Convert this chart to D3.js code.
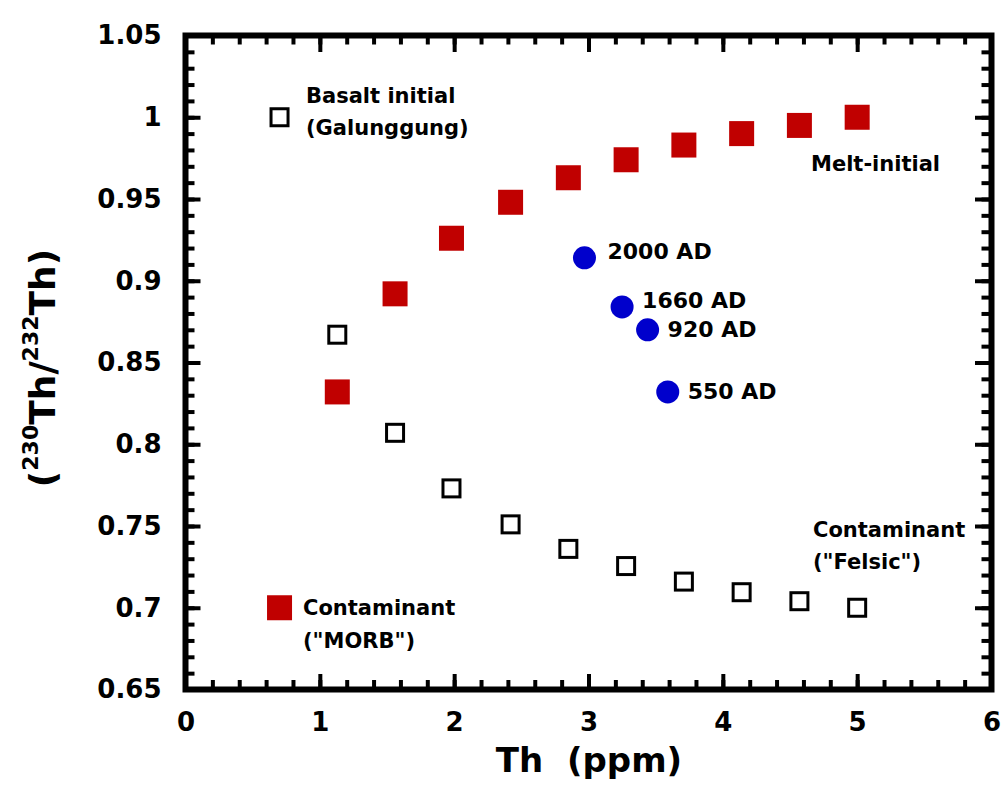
<!DOCTYPE html>
<html>
<head>
<meta charset="utf-8">
<script src="https://cdn.jsdelivr.net/npm/d3@7"></script>
<style>
  html, body { margin: 0; padding: 0; background: #fff; }
  svg text { font-family: "Comic Sans MS", "DejaVu Sans", sans-serif; font-weight: bold; fill: #000; }
</style>
</head>
<body>
<svg id="chart" width="1002" height="792"></svg>
<script>
// ---- data ----
const meltTh = [1.13, 1.56, 1.98, 2.42, 2.85, 3.28, 3.71, 4.14, 4.57, 5.0];
const meltRatio = [0.832, 0.892, 0.926, 0.948, 0.963, 0.974, 0.983, 0.990, 0.995, 1.000];

const felsicTh = [1.13, 1.56, 1.98, 2.42, 2.85, 3.28, 3.71, 4.14, 4.57, 5.0];
const felsicRatio = [0.867, 0.807, 0.773, 0.751, 0.736, 0.7255, 0.716, 0.7095, 0.704, 0.700];

const basaltKeyTh = [0.70];
const basaltKeyRatio = [1.000];
const morbKeyTh = [0.70];
const morbKeyRatio = [0.700];

const eruptTh = [2.97, 3.25, 3.44, 3.59];
const eruptRatio = [0.914, 0.884, 0.870, 0.832];
const eruptLabels = ["2000 AD", "1660 AD", "920 AD", "550 AD"];

const xTicks = [0, 1, 2, 3, 4, 5, 6];
const yTicks = [0.65, 0.7, 0.75, 0.8, 0.85, 0.9, 0.95, 1, 1.05];
const yTickLabels = ["0.65", "0.7", "0.75", "0.8", "0.85", "0.9", "0.95", "1", "1.05"];

// ---- layout ----
const L = 185.5, R = 991.5, T = 35.5, B = 689.5;
const svg = d3.select("#chart");
const x = d3.scaleLinear().domain([0, 6]).range([L, R]);
const y = d3.scaleLinear().domain([0.65, 1.05]).range([B, T]);

const xMinor = d3.range(0, 6.0001, 0.2).map(v => +v.toFixed(2));
const yMinor = d3.range(0.65, 1.05001, 0.01).map(v => +v.toFixed(3));

function styleAxis(g, fontSize) {
  g.select(".domain").remove();
  g.selectAll(".tick line").attr("stroke", "#000").attr("stroke-width", 4);
  g.selectAll("text").style("font-size", fontSize + "px").attr("fill", "#000");
}

// minor ticks
svg.append("g").attr("transform", `translate(0,${B})`)
  .call(d3.axisBottom(x).tickValues(xMinor).tickSize(-9.5).tickFormat(""))
  .call(g => styleAxis(g, 0));
svg.append("g").attr("transform", `translate(0,${T})`)
  .call(d3.axisTop(x).tickValues(xMinor).tickSize(-9).tickFormat(""))
  .call(g => styleAxis(g, 0));
svg.append("g").attr("transform", `translate(${L},0)`)
  .call(d3.axisLeft(y).tickValues(yMinor).tickSize(-9).tickFormat(""))
  .call(g => styleAxis(g, 0));
svg.append("g").attr("transform", `translate(${R},0)`)
  .call(d3.axisRight(y).tickValues(yMinor).tickSize(-10).tickFormat(""))
  .call(g => styleAxis(g, 0));

// major ticks
svg.append("g").attr("transform", `translate(0,${B})`)
  .call(d3.axisBottom(x).tickValues(xTicks).tickSize(-15.5).tickPadding(23).tickFormat(d3.format("d")))
  .call(g => styleAxis(g, 26));
svg.append("g").attr("transform", `translate(0,${T})`)
  .call(d3.axisTop(x).tickValues(xTicks).tickSize(-16.5).tickFormat(""))
  .call(g => styleAxis(g, 0));
svg.append("g").attr("transform", `translate(${L},0)`)
  .call(d3.axisLeft(y).tickValues(yTicks).tickSize(-15).tickPadding(24).tickFormat((d, i) => yTickLabels[i]))
  .call(g => styleAxis(g, 26));
svg.append("g").attr("transform", `translate(${R},0)`)
  .call(d3.axisRight(y).tickValues(yTicks).tickSize(-16.5).tickFormat(""))
  .call(g => styleAxis(g, 0));

// frame
svg.append("rect").attr("x", L).attr("y", T).attr("width", R - L).attr("height", B - T)
  .attr("fill", "none").attr("stroke", "#000").attr("stroke-width", 6);

// axis titles
svg.append("text").attr("x", 589).attr("y", 772)
  .attr("text-anchor", "middle").style("font-size", "34px")
  .attr("xml:space", "preserve").text("Th  (ppm)");

const yl = svg.append("text").attr("transform", "translate(55,368) rotate(-90)")
  .attr("text-anchor", "middle").style("font-size", "36px");
yl.append("tspan").text("(");
yl.append("tspan").attr("dy", -17).style("font-size", "22px").text("230");
yl.append("tspan").attr("dy", 17).text("Th/");
yl.append("tspan").attr("dy", -17).style("font-size", "22px").text("232");
yl.append("tspan").attr("dy", 17).text("Th)");

// data marks
const blue = "#0000CC", red = "#C00000";

svg.append("g").selectAll("circle").data(eruptTh).join("circle")
  .attr("cx", d => x(d)).attr("cy", (d, i) => y(eruptRatio[i])).attr("r", 11.5)
  .attr("fill", blue);

const labelDx = [23, 20, 20, 20];
const labelDy = [-7, -7, -1, -1];
svg.append("g").selectAll("text").data(eruptLabels).join("text")
  .attr("x", (d, i) => x(eruptTh[i]) + labelDx[i])
  .attr("y", (d, i) => y(eruptRatio[i]) + labelDy[i])
  .attr("dy", "0.36em").style("font-size", "22px").text(d => d);

const openSize = 17;
svg.append("g").selectAll("rect").data(felsicTh.concat(basaltKeyTh)).join("rect")
  .attr("x", d => x(d) - openSize / 2)
  .attr("y", (d, i) => y(felsicRatio.concat(basaltKeyRatio)[i]) - openSize / 2)
  .attr("width", openSize).attr("height", openSize)
  .attr("fill", "none").attr("stroke", "#000").attr("stroke-width", 3);

const fillSize = 25;
svg.append("g").selectAll("rect").data(meltTh.concat(morbKeyTh)).join("rect")
  .attr("x", d => x(d) - fillSize / 2)
  .attr("y", (d, i) => y(meltRatio.concat(morbKeyRatio)[i]) - fillSize / 2)
  .attr("width", fillSize).attr("height", fillSize)
  .attr("fill", red);

// annotations
function note(px, py, lines, gap) {
  lines.forEach((s, i) => {
    svg.append("text").attr("x", px).attr("y", py + i * gap)
      .style("font-size", "21px").text(s);
  });
}
note(306, 103, ["Basalt initial", "(Galunggung)"], 32);
note(811, 171, ["Melt-initial"], 0);
note(813, 537, ["Contaminant", "(\"Felsic\")"], 32);
note(303, 615, ["Contaminant", "(\"MORB\")"], 33);
</script>
</body>
</html>
